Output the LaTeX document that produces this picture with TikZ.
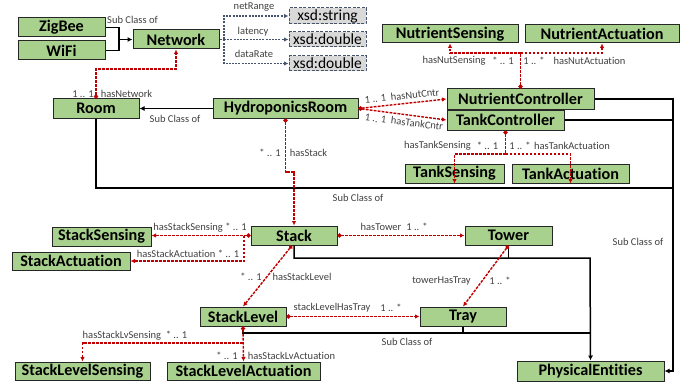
\documentclass[tikz,border=0pt]{standalone}
\usepackage{fontspec}
\setmainfont{Carlito}[Ligatures={NoCommon}]
\usetikzlibrary{arrows.meta,calc}
\definecolor{boxgreen}{HTML}{A9D18E}
\definecolor{relred}{HTML}{C00000}
\definecolor{dtblue}{HTML}{44546A}
\definecolor{dtgray}{HTML}{D9D9D9}
\definecolor{lblgray}{HTML}{404040}
\begin{document}
\begin{tikzpicture}[x=1pt,y=-1pt,
 cls/.style={draw=black!85,fill=boxgreen,line width=1pt,font=\fontsize{16.2}{16.2}\selectfont\bfseries,inner sep=0pt,minimum height=19pt},
 dtype/.style={draw=dtblue,dash pattern=on 3pt off 1.5pt,fill=dtgray,line width=1pt,font=\fontsize{15.5}{15.5}\selectfont,inner sep=0pt,minimum width=77pt,minimum height=15pt},
 sub/.style={draw=black,line width=1.5pt},
 subarr/.style={sub,-{Latex[length=5pt,width=5pt]}},
 rel/.style={draw=relred,line width=1.4pt,dash pattern=on 2.8pt off 1.2pt},
 relarr/.style={rel,-{Latex[length=4.5pt,width=4.5pt]}},
 reldot/.style={rel,{Circle[length=4pt]}-{Latex[length=4.5pt,width=4.5pt]}},
 relstart/.style={rel,{Circle[length=4pt]}-},
 dt/.style={draw=dtblue,line width=1.1pt,dash pattern=on 2pt off 1.2pt},
 dtarr/.style={dt,-{Latex[length=4.5pt,width=4.5pt]}},
 lbl/.style={font=\fontsize{10.5}{10.5}\selectfont,text=lblgray,inner sep=0pt},
]
\useasboundingbox (0,0) rectangle (692,385);
% classes
\node[cls,minimum width=87pt] (zig) at (61.5,27.5) {ZigBee};
\node[cls,minimum width=87pt] (wifi) at (61.5,50.5) {WiFi};
\node[cls,minimum width=86pt] (net) at (176,39.5) {Network};
\node[dtype,minimum height=16pt] (xs1) at (327.5,16) {xsd:string};
\node[dtype] (xs2) at (327.5,39.5) {xsd:double};
\node[dtype] (xs3) at (327.5,63.5) {xsd:double};
\node[cls,minimum width=86pt] (room) at (96,108.5) {Room};
\node[cls,minimum width=145pt] (hroom) at (285.5,108.5) {HydroponicsRoom};
\node[cls,minimum width=136pt,minimum height=18pt] (ns) at (450,34) {NutrientSensing};
\node[cls,minimum width=154pt,minimum height=18pt] (na) at (602,34) {NutrientActuation};
\node[cls,minimum width=147pt,minimum height=20pt] (nc) at (520.5,99) {NutrientController};
\node[cls,minimum width=117pt,minimum height=20pt] (tc) at (505.5,120) {TankController};
\node[cls,minimum width=99pt] (ts) at (454.5,173.5) {TankSensing};
\node[cls,minimum width=117pt] (ta) at (570.5,173.5) {TankActuation};
\node[cls,minimum width=86pt] (stack) at (294,235.5) {Stack};
\node[cls,minimum width=87pt] (tower) at (508.5,235.5) {Tower};
\node[cls,minimum width=99pt] (ss) at (101.5,236.5) {StackSensing};
\node[cls,minimum width=118pt,minimum height=18pt] (sa) at (71,261) {StackActuation};
\node[cls,minimum width=86pt] (sl) at (243,316.5) {StackLevel};
\node[cls,minimum width=86pt] (tray) at (463,316.5) {Tray};
\node[cls,minimum width=135pt,minimum height=18pt] (sls) at (82.5,371) {StackLevelSensing};
\node[cls,minimum width=153pt,minimum height=18pt] (sla) at (243.5,371) {StackLevelActuation};
\node[cls,minimum width=147pt,minimum height=20pt] (pe) at (590.5,371) {PhysicalEntities};
% junction coordinates
\coordinate (jz) at (119,39.5);
\coordinate (jd) at (224,39.5);
\coordinate (jnw) at (176,69);
\coordinate (jpe) at (673,371);
\coordinate (jroom) at (673,188);
\coordinate (jst) at (590,258);
\coordinate (jsl) at (590,333);
\coordinate (jhs) at (294,172);
\coordinate (jnc) at (520.5,53);
\coordinate (jtc) at (505.5,154);
\coordinate (jss) at (244,235.5);
\coordinate (jsls) at (243,343);
% subclass connectors
\draw[sub] (zig.east) -| (jz);
\draw[sub] (wifi.east) -| (jz);
\draw[subarr] (jz) -- (net.west);
\draw[subarr] (hroom.west) -- (room.east);
\draw[subarr] (nc.east) -| (jpe) -- (pe.east);
\draw[sub] (tc.east) -- (tc.east -| jpe);
\draw[sub] (room.south) |- (jroom);
\draw[subarr] (stack.south) |- (jst) -- (pe.north);
\draw[sub] (tower.south) -- (tower.south |- jst);
\draw[sub] (sl.south) |- (jsl);
\draw[sub] (tray.south) -- (tray.south |- jsl);
% datatype properties
\draw[dt] (net.east) -- (jd);
\draw[dtarr] (jd) -- (xs2.west);
\draw[dtarr] (jd) |- (xs1.west);
\draw[dtarr] (jd) |- (xs3.west);
% object properties
\draw[reldot] (room.north) |- (jnw) -- (net.south);
\draw[reldot] (hroom.south) |- (jhs) -- (stack.north);
\draw[reldot] (hroom.east) -- (nc.west);
\draw[reldot] (hroom.east) -- (tc.west);
\draw[relstart] (nc.north) -- (jnc);
\draw[relarr] (jnc) -| (ns.south);
\draw[relarr] (jnc) -| (na.south);
\draw[relstart] (tc.south) -- (jtc);
\draw[relarr] (jtc) -| (ts.south);
\draw[relarr] (jtc) -| (ta.south);
\draw[reldot] (stack.west) -- (stack.west -| ss.east);
\draw[relarr] (jss) |- (sa.east);
\draw[reldot] (stack.east) -- (tower.west);
\draw[reldot] ([xshift=-2pt]stack.south) -- (sl.north);
\draw[reldot] (tower.south) -- (tray.north);
\draw[reldot] (sl.east) -- (tray.west);
\draw[reldot] (sl.south) -- (sla.north);
\draw[relarr] (jsls) -| (sls.north);
% labels
\node[lbl] (l1) at (132.5,20) {Sub Class of};
\node[lbl] (l2) at (254,7) {netRange};
\node[lbl] (l3) at (253,32) {latency};
\node[lbl] (l4) at (254,54) {dataRate};
\node[lbl] (l5) at (83,94) {1 .. 1};
\node[lbl] (l6) at (126.5,94) {hasNetwork};
\node[lbl] (l7) at (175,119) {Sub Class of};
\node[lbl] (l8) at (454,61) {hasNutSensing};
\node[lbl] (l9) at (503,61) {* .. 1};
\node[lbl] (l10) at (534,61) {1 .. *};
\node[lbl] (l11) at (589.5,61) {hasNutActuation};
\node[lbl,rotate=6] (l12) at (402,96) {1 .. 1\ \ hasNutCntr};
\node[lbl,rotate=-7] (l13) at (404,122) {1 .. 1\ \ hasTankCntr};
\node[lbl] (l14) at (437.5,146) {hasTankSensing};
\node[lbl] (l15) at (487.5,146) {* .. 1};
\node[lbl] (l16) at (520,146) {1 .. *};
\node[lbl] (l17) at (572,146) {hasTankActuation};
\node[lbl] (l18) at (270,153) {* .. 1};
\node[lbl] (l19) at (308.5,153) {hasStack};
\node[lbl] (l20) at (358,198) {Sub Class of};
\node[lbl] (l21) at (638,242) {Sub Class of};
\node[lbl] (l22) at (200,228) {hasStackSensing * .. 1};
\node[lbl] (l23) at (188,254) {hasStackActuation * .. 1};
\node[lbl] (l24) at (381,227) {hasTower};
\node[lbl] (l25) at (417,227) {1 .. *};
\node[lbl] (l26) at (251,277) {* .. 1};
\node[lbl] (l27) at (302,277) {hasStackLevel};
\node[lbl] (l28) at (441.5,281) {towerHasTray};
\node[lbl] (l29) at (500,281) {1 .. *};
\node[lbl] (l30) at (332,308) {stackLevelHasTray};
\node[lbl] (l31) at (391,308) {1 .. *};
\node[lbl] (l32) at (407,342) {Sub Class of};
\node[lbl] (l33) at (135,336) {hasStackLvSensing\ \ * .. 1};
\node[lbl] (l34) at (227,356) {* .. 1};
\node[lbl] (l35) at (291.5,356) {hasStackLvActuation};
\end{tikzpicture}
\end{document}
